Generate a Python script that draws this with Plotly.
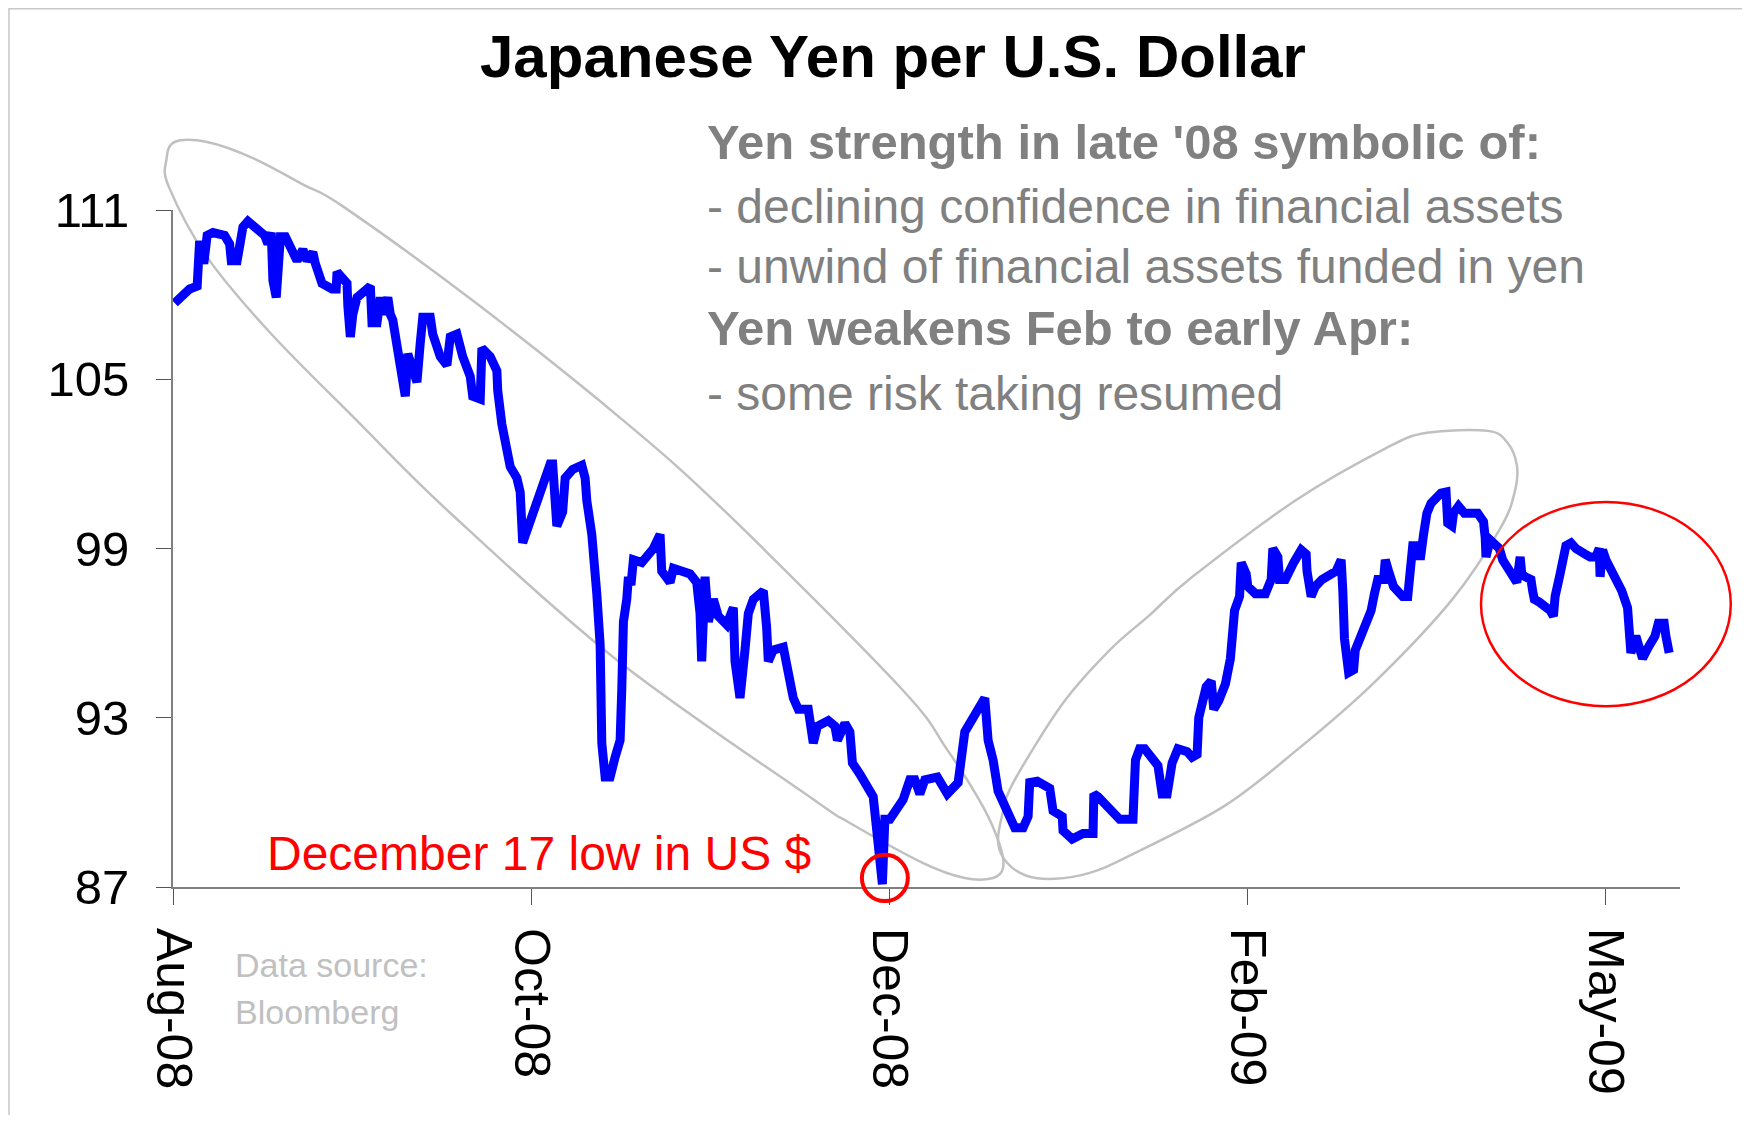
import plotly.graph_objects as go

# ---------------- data (trading-day index, JPY per USD) ----------------
trading_day = [
    0.2, 2.0, 2.9, 3.0, 3.2, 3.7, 4.1, 4.8, 6.2, 6.8, 7.0, 7.7, 8.0, 8.4, 9.0,
    11.0, 11.4, 11.8, 12.0, 12.4, 12.9, 13.5, 14.9, 15.6, 16.1, 16.8, 17.1, 17.9,
    19.1, 19.6, 19.7, 20.9, 21.0, 21.3, 21.6, 22.1, 23.7, 23.9, 24.5, 24.9, 25.2,
    25.8, 26.1, 26.4, 26.9, 27.6, 27.9, 28.2, 29.3, 29.7, 30.0, 30.9, 31.2, 32.1,
    32.9, 33.3, 34.1, 34.8, 35.7, 36.0, 36.9, 37.1, 38.1, 38.9, 39.0, 39.5, 40.5,
    41.3, 41.7, 42.0, 42.9, 43.7, 45.3, 45.6, 45.9, 46.1, 46.8, 47.1, 48.0, 49.1,
    49.5, 49.7, 50.3, 50.7, 50.9, 51.3, 51.5, 51.9, 52.5, 53.1, 53.7, 53.9, 54.1,
    54.5, 54.7, 55.0, 55.3, 56.3, 57.7, 58.5, 58.7, 59.7, 60.1, 62.1, 62.9, 63.3,
    63.5, 63.9, 64.3, 64.9, 65.5, 66.5, 67.3, 67.5, 68.1, 68.7, 69.1, 69.7, 70.9,
    71.3, 71.5, 72.1, 73.3, 73.7, 74.5, 75.1, 76.3, 76.9, 77.4, 78.7, 79.5, 79.8,
    80.7, 81.3, 81.6, 82.5, 83.7, 84.1, 84.6, 85.2, 85.5, 86.1, 87.7, 88.5, 89.1,
    89.7, 90.3, 91.8, 93.0, 94.3, 95.1, 96.1, 97.2, 97.5, 97.9, 98.5, 99.1, 99.9,
    101.1, 102.1, 102.7, 102.9, 103.8, 105.3, 105.7, 106.8, 106.9, 108.0, 109.3,
    110.5, 110.6, 111.1, 112.9, 113.7, 115.3, 115.6, 116.1, 116.7, 118.3, 118.8,
    119.4, 120.0, 120.7, 121.8, 122.4, 123.0, 123.2, 124.1, 124.7, 125.0, 125.6,
    126.4, 127.0, 127.4, 127.5, 128.1, 128.3, 128.9, 129.1, 130.0, 131.2, 131.9,
    132.1, 132.7, 132.9, 133.6, 134.0, 134.6, 135.5, 136.1, 136.2, 136.5, 136.7,
    137.2, 138.0, 139.7, 140.3, 140.5, 140.7, 141.2, 141.8, 142.0, 142.6, 143.9,
    144.3, 144.7, 145.4, 145.6, 146.0, 146.6, 147.7, 148.3, 148.5, 148.7, 148.9,
    149.6, 149.8, 150.2, 150.6, 151.1, 151.7, 152.3, 152.9, 153.1, 153.6, 153.8,
    154.4, 155.1, 156.7, 157.4, 157.6, 157.7, 158.2, 159.3, 159.7, 160.1, 160.3,
    161.2, 161.4, 161.8, 162.0, 162.4, 163.1, 163.3, 163.5, 164.1, 165.4, 165.8,
    166.0, 166.6, 167.1, 167.3, 167.9, 168.5, 169.6, 170.2, 170.9, 171.3, 171.4,
    171.7, 172.1, 173.0, 174.0, 174.7, 174.9, 175.1, 175.7, 176.1, 176.5, 177.2,
    178.0, 178.4, 179.1, 179.3, 179.7,
]
usd_jpy = [
    107.7, 108.2, 108.3, 109.6, 109.9, 109.1, 110.1, 110.2, 110.1, 109.8, 109.2,
    109.2, 109.65, 110.4, 110.6, 110.1, 109.8, 110.2, 108.5, 107.9, 110.05, 110.05,
    109.2, 109.6, 109.2, 109.5, 109.1, 108.4, 108.2, 108.2, 108.8, 108.4, 107.6,
    106.5, 107.3, 107.9, 108.3, 107.0, 107.0, 107.9, 107.3, 107.9, 107.3, 107.1,
    106.2, 105.2, 104.4, 105.9, 104.9, 106.3, 107.2, 107.2, 106.6, 105.8, 105.5,
    106.5, 106.6, 105.8, 105.1, 104.4, 104.3, 106.1, 105.8, 105.3, 104.6, 103.4,
    101.9, 101.5, 101.0, 99.2, 100.0, 100.8, 102.0, 102.0, 100.3, 99.8, 100.3,
    101.5, 101.8, 101.95, 101.5, 100.7, 99.5, 98.3, 97.4, 95.6, 92.1, 90.9, 90.9,
    91.6, 92.2, 94.0, 96.4, 97.2, 98.0, 97.7, 98.6, 98.5, 99.0, 99.5, 98.2, 97.8,
    98.3, 98.1, 97.8, 96.7, 95.0, 98.0, 96.4, 97.2, 96.6, 96.3, 96.9, 95.0, 93.7,
    95.4, 96.7, 97.2, 97.5, 96.2, 95.0, 95.4, 95.5, 94.9, 93.7, 93.3, 93.3, 92.1,
    92.7, 92.9, 92.7, 92.2, 92.8, 92.5, 91.4, 91.0, 90.5, 90.2, 88.8, 87.1, 89.4,
    89.4, 90.1, 90.8, 90.8, 90.3, 90.8, 90.9, 90.3, 90.7, 92.5, 93.0, 93.7, 93.7,
    92.2, 91.5, 90.4, 89.8, 89.1, 89.1, 89.5, 90.7, 90.75, 90.5, 89.7, 89.5, 89.0,
    88.7, 88.9, 88.9, 90.3, 90.2, 89.6, 89.4, 89.4, 91.5, 91.9, 91.9, 91.3, 90.3,
    90.3, 91.4, 91.9, 91.8, 91.6, 91.7, 93.0, 94.1, 94.3, 93.3, 93.6, 94.2, 95.1,
    96.1, 96.8, 97.3, 98.5, 98.1, 97.65, 97.4, 97.4, 97.9, 99.0, 98.7, 97.9, 97.9,
    98.2, 98.5, 98.95, 98.8, 98.2, 97.4, 97.3, 97.65, 97.9, 98.2, 98.6, 97.5,
    95.8, 94.6, 94.7, 95.4, 95.8, 96.8, 97.4, 97.9, 97.9, 98.6, 98.2, 97.65, 97.3,
    97.3, 97.9, 98.4, 99.1, 99.1, 98.6, 99.5, 100.25, 100.6, 100.8, 100.96, 101.0,
    99.9, 99.8, 100.25, 100.5, 100.25, 100.25, 99.95, 99.4, 98.7, 99.3, 99.0,
    98.6, 98.4, 98.2, 97.9, 97.8, 98.7, 98.1, 98.0, 97.9, 97.5, 97.2, 97.1, 96.8,
    96.6, 97.3, 98.1, 98.8, 99.1, 99.2, 99.0, 98.8, 98.7, 98.7, 99.0, 98.0, 98.95,
    98.6, 98.1, 97.5, 96.9, 95.8, 95.3, 95.9, 95.3, 95.1, 95.5, 95.9, 96.35, 96.35,
    95.9, 95.3,
]

tick_days = [0, 43, 86, 129, 172]
tick_labels = ["Aug-08", "Oct-08", "Dec-08", "Feb-09", "May-09"]
y_ticks = [87, 93, 99, 105, 111]

title_text = "Japanese Yen per U.S. Dollar"
note_lines = [
    ("<b>Yen strength in late '08 symbolic of:</b>", 142),
    ("- declining confidence in financial assets", 206),
    ("- unwind of financial assets funded in yen", 266),
    ("<b>Yen weakens Feb to early Apr:</b>", 328),
    ("- some risk taking resumed", 393),
]
low_label = "December 17 low in US $"
source_lines = [("Data source:", 965), ("Bloomberg", 1012)]

# highlight outlines, in data coordinates (trading day, yen)
ellipse1 = [(0.2, 113.41), (4.1, 113.41), (9.6, 112.84), (15.7, 111.89), (20.5, 111.11),
            (36.4, 107.70), (54.0, 103.56), (66.5, 100.26), (87.3, 94.09), (93.0, 91.86),
            (97.3, 89.84), (99.3, 88.49), (99.7, 87.68), (98.5, 87.32), (95.1, 87.32),
            (90.1, 87.85), (81.3, 89.27), (76.5, 90.19), (53.3, 95.05), (33.3, 100.26),
            (22.0, 103.56), (11.7, 106.64), (4.1, 109.33), (-0.5, 111.82), (-0.8, 112.77)]
ellipse2 = [(99.1, 88.56), (99.6, 89.56), (100.9, 90.69), (106.9, 93.52), (112.5, 95.40),
            (117.3, 96.64), (122.4, 97.99), (134.9, 100.72), (145.7, 102.56), (150.6, 103.10),
            (157.9, 103.17), (160.3, 102.74), (161.4, 101.96), (161.2, 101.07), (159.5, 99.76),
            (153.6, 97.18), (144.2, 94.23), (135.0, 91.86), (126.1, 89.84), (114.6, 88.07),
            (110.1, 87.50), (105.9, 87.29), (102.6, 87.39), (100.2, 87.85)]
red_ellipse = dict(cx=172.1, cy=97.03, rx=15.0, ry=3.62)
low_circle = dict(cx=85.5, cy=87.32, rx=2.76, ry=0.82)

# ---------------- layout geometry ----------------
PAGE_PAD = 8                     # default body margin of the html page
W, H = 1750 - 2 * PAGE_PAD, 1123 - 2 * PAGE_PAD
ML, MT = 173 - PAGE_PAD, 210 - PAGE_PAD
MR, MB = W - (1680 - PAGE_PAD), H - (887 - PAGE_PAD)
X_RANGE = [0, 181]
Y_RANGE = [87, 111]
FONT = "Liberation Sans, Arial, sans-serif"


def d2p(d, v):
    return ((d - X_RANGE[0]) / (X_RANGE[1] - X_RANGE[0]),
            (v - Y_RANGE[0]) / (Y_RANGE[1] - Y_RANGE[0]))


def px2p(x, y):
    fx, fy = x - PAGE_PAD, y - PAGE_PAD
    return ((fx - ML) / (W - ML - MR), (H - MB - fy) / (H - MT - MB))


def smooth_path(pts):
    P = [d2p(d, v) for d, v in pts]
    n = len(P)
    s = "M %.5f %.5f" % P[0]
    for i in range(n):
        p0, p1, p2, p3 = P[i - 1], P[i], P[(i + 1) % n], P[(i + 2) % n]
        c1 = (p1[0] + (p2[0] - p0[0]) / 6, p1[1] + (p2[1] - p0[1]) / 6)
        c2 = (p2[0] - (p3[0] - p1[0]) / 6, p2[1] - (p3[1] - p1[1]) / 6)
        s += " C %.5f %.5f, %.5f %.5f, %.5f %.5f" % (c1[0], c1[1], c2[0], c2[1], p2[0], p2[1])
    return s + " Z"


def ellipse_shape(e, color, width):
    x0, y0 = d2p(e["cx"] - e["rx"], e["cy"] - e["ry"])
    x1, y1 = d2p(e["cx"] + e["rx"], e["cy"] + e["ry"])
    return dict(type="circle", xref="paper", yref="paper", x0=x0, y0=y0, x1=x1, y1=y1,
                line=dict(color=color, width=width), layer="above")


fig = go.Figure()
fig.add_trace(go.Scatter(x=trading_day, y=usd_jpy, mode="lines",
                         line=dict(color="#0000FF", width=9), hoverinfo="x+y"))

shapes = [
    dict(type="path", xref="paper", yref="paper", path=smooth_path(ellipse1),
         line=dict(color="#C0C0C0", width=2.5), layer="below"),
    dict(type="path", xref="paper", yref="paper", path=smooth_path(ellipse2),
         line=dict(color="#C0C0C0", width=2.5), layer="below"),
    ellipse_shape(red_ellipse, "#FF0000", 2.5),
    ellipse_shape(low_circle, "#FF0000", 4),
]
bx0, by0 = px2p(9, 8.8)
bx1, by1 = px2p(1760, 1135)
shapes.append(dict(type="rect", xref="paper", yref="paper", x0=bx0, y0=by1, x1=bx1, y1=by0,
                   line=dict(color="#C8C8C8", width=1.5), layer="below"))

annotations = []
tx, ty = px2p(893, 57)
annotations.append(dict(text="<b>%s</b>" % title_text, x=tx, y=ty, xref="paper", yref="paper",
                        xanchor="center", yanchor="middle", showarrow=False,
                        font=dict(family=FONT, size=60, color="black")))
for txt, yc in note_lines:
    ax, ay = px2p(705, yc)
    annotations.append(dict(text=txt, x=ax, y=ay, xref="paper", yref="paper",
                            xanchor="left", yanchor="middle", showarrow=False,
                            font=dict(family=FONT, size=49 if txt.startswith("<b>") else 48,
                                      color="#808080")))
ax, ay = px2p(265, 853)
annotations.append(dict(text=low_label, x=ax, y=ay, xref="paper", yref="paper",
                        xanchor="left", yanchor="middle", showarrow=False,
                        font=dict(family=FONT, size=48, color="#FF0000")))
for txt, yc in source_lines:
    ax, ay = px2p(233, yc)
    annotations.append(dict(text=txt, x=ax, y=ay, xref="paper", yref="paper",
                            xanchor="left", yanchor="middle", showarrow=False,
                            font=dict(family=FONT, size=34, color="#C0C0C0")))

fig.update_layout(
    width=W, height=H,
    margin=dict(l=ML, r=MR, t=MT, b=MB, pad=0),
    paper_bgcolor="white", plot_bgcolor="white",
    showlegend=False,
    shapes=shapes, annotations=annotations,
    font=dict(family=FONT, color="black"),
    xaxis=dict(range=X_RANGE, tickmode="array", tickvals=tick_days, ticktext=tick_labels,
               tickangle=90, ticks="outside", ticklen=16, tickwidth=1.2, tickcolor="#555555",
               showline=True, linecolor="#808080", linewidth=2, showgrid=False, zeroline=False,
               tickfont=dict(family=FONT, size=50, color="black"), ticklabelstandoff=13,
               fixedrange=True),
    yaxis=dict(range=Y_RANGE, tickmode="array", tickvals=y_ticks,
               ticktext=[str(v) for v in y_ticks],
               ticks="outside", ticklen=15, tickwidth=1.2, tickcolor="#555555",
               showline=True, linecolor="#808080", linewidth=2, showgrid=False, zeroline=False,
               tickfont=dict(family=FONT, size=49, color="black"), ticklabelstandoff=17,
               fixedrange=True),
)

fig.write_html("out.html")
